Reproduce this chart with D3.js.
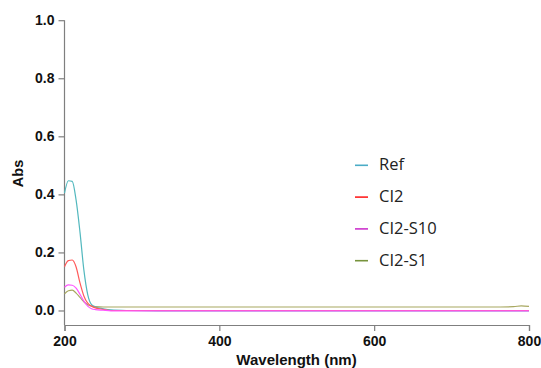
<!DOCTYPE html>
<html><head><meta charset="utf-8">
<script src="https://cdn.jsdelivr.net/npm/d3@7"></script>
<style>body{margin:0;background:#fff}svg{display:block}</style>
</head><body>
<svg id="c" width="541" height="368"></svg>
<script>
const wavelengths = [200,205,210,215,220,225,230,235,240,250,260,280,320,400,500,550,600,650,700,750,780,790,800];
const refValues   = [0.404,0.447,0.445,0.38,0.27,0.14,0.055,0.02,0.012,0.006,0.002,0.0,-0.001,-0.001,-0.001,-0.001,-0.001,-0.001,-0.001,-0.001,-0.001,-0.001,-0.001];
const ci2Values   = [0.151,0.172,0.174,0.15,0.095,0.05,0.025,0.015,0.009,0.004,0.0,0.0,0.0,0.0,0.0,0.0,0.0,0.0,0.0,0.0,0.0,0.0,0.0];
const s10Values   = [0.08,0.088,0.087,0.077,0.056,0.032,0.015,0.006,0.003,0.001,-0.001,-0.001,-0.001,-0.001,-0.001,-0.001,-0.001,-0.001,-0.001,-0.001,-0.001,-0.001,-0.001];
const s1Values    = [0.057,0.068,0.07,0.06,0.045,0.03,0.02,0.015,0.013,0.012,0.012,0.012,0.012,0.012,0.012,0.012,0.012,0.012,0.012,0.012,0.013,0.016,0.014];
const seriesNames = ["Ref","CI2","CI2-S10","CI2-S1"];
const seriesColors = ["#4bacc6","#ff2020","#cc33cc","#77933c"];
const lineColors = ["#52b8be","#ff5a5a","#ff55ff","#a8a860"];
const xTicks = [200,400,600,800];
const yTicks = [0.0,0.2,0.4,0.6,0.8,1.0];

const allValues = [refValues, ci2Values, s10Values, s1Values];
const svg = d3.select("#c");
const x = d3.scaleLinear().domain([200,800]).range([64.5,529]);
const y = d3.scaleLinear().domain([-0.05,1.0]).range([325,20.2]);

const gx = svg.append("g").attr("transform","translate(0,325)")
  .call(d3.axisBottom(x).tickValues(xTicks).tickFormat(d3.format("d")).tickSizeOuter(0).tickSize(6).tickPadding(5));
const gy = svg.append("g").attr("transform","translate(64.5,0)")
  .call(d3.axisLeft(y).tickValues(yTicks).tickFormat(d3.format(".1f")).tickSizeOuter(0).tickSize(6).tickPadding(4));
[gx,gy].forEach(g=>{
  g.select(".domain").attr("stroke","#7f7f7f").attr("stroke-width",1.2);
  g.selectAll(".tick line").attr("stroke","#7f7f7f").attr("stroke-width",1.2);
  g.selectAll("text").attr("font-family","Liberation Sans, Arial, sans-serif").attr("font-weight","bold").attr("font-size",14).attr("fill","#111");
});
gy.select(".domain").attr("d","M0,20.2V325");

const line = d3.line().x((d,i)=>x(wavelengths[i])).y(d=>y(d)).curve(d3.curveMonotoneX);
const order = [3,0,1,2];
order.forEach(k=>{
  svg.append("path").datum(allValues[k]).attr("d",line)
    .attr("fill","none").attr("stroke",lineColors[k]).attr("stroke-width",1.2);
});

svg.append("text").attr("x",296.5).attr("y",364.5).attr("text-anchor","middle")
  .attr("font-family","Liberation Sans, Arial, sans-serif").attr("font-weight","bold").attr("font-size",15).attr("fill","#111")
  .text("Wavelength (nm)");
svg.append("text").attr("transform","translate(23,173.5) rotate(-90)").attr("text-anchor","middle")
  .attr("font-family","Liberation Sans, Arial, sans-serif").attr("font-weight","bold").attr("font-size",14.5).attr("fill","#111")
  .text("Abs");

const lg = svg.append("g");
seriesNames.forEach((n,i)=>{
  const yy = 165.3 + i*31.8;
  lg.append("line").attr("x1",355).attr("x2",368).attr("y1",yy).attr("y2",yy)
    .attr("stroke",seriesColors[i]).attr("stroke-width",1.6);
  lg.append("text").attr("x",379).attr("y",yy+5)
    .attr("font-family","Open Sans, Noto Sans, sans-serif").attr("font-size",16.5).attr("fill","#222")
    .text(n);
});
</script>
</body></html>
